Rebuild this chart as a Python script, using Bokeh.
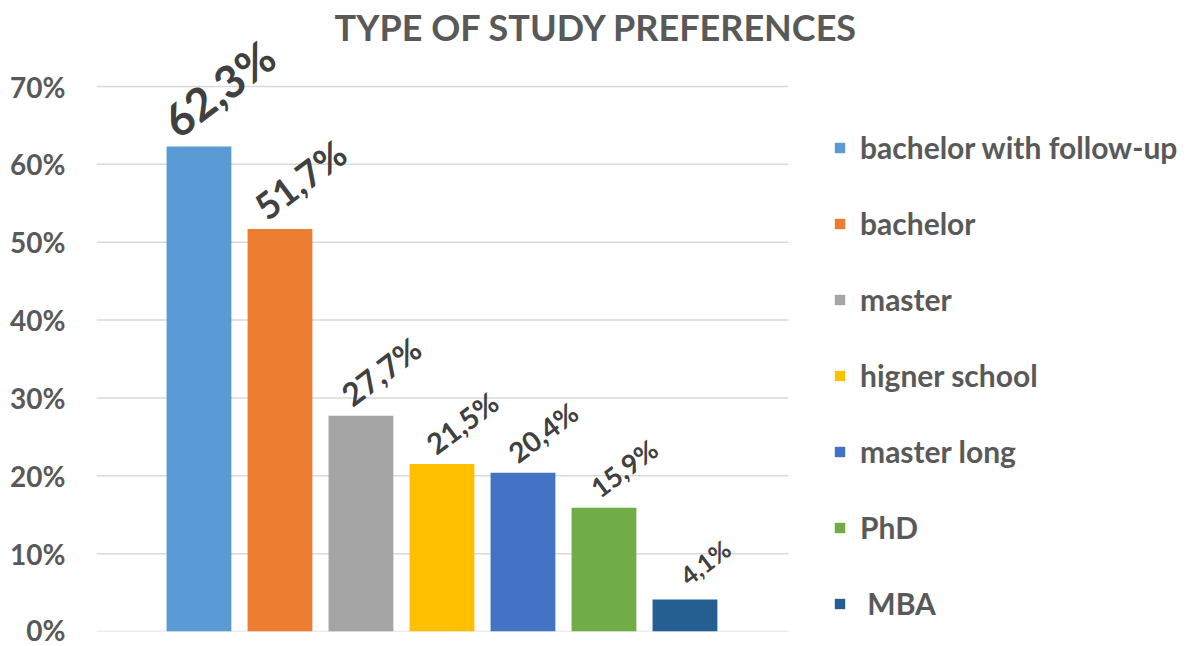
from bokeh.plotting import figure
from bokeh.models import ColumnDataSource, Legend, LegendItem, Label, PrintfTickFormatter, FixedTicker, Range1d
from bokeh.core.properties import value
from bokeh.embed import file_html
from bokeh.resources import INLINE

# ---- data ----
categories = ["bachelor with follow-up", "bachelor", "master", "higner school",
              "master long", "PhD", " MBA"]
percent = [62.3, 51.7, 27.7, 21.5, 20.4, 15.9, 4.1]
y_ticks = [0, 10, 20, 30, 40, 50, 60, 70]
title_text = "TYPE OF STUDY PREFERENCES"

# ---- styles ----
colors = ["#5B9BD5", "#ED7D31", "#A5A5A5", "#FFC000", "#4472C4", "#70AD47", "#255E91"]
label_sizes = [45, 37, 32, 29, 28, 27, 25]
FONT = "Lato"

x_idx = list(range(len(categories)))
labels = [f"{v:.1f}".replace(".", ",") + "%" for v in percent]

src = ColumnDataSource(dict(
    x=x_idx, top=percent, color=colors, cat=categories, lab=labels,
    fs=[f"{s}px" for s in label_sizes],
    xo=[20 for s in label_sizes],
    yo=[-(1.02 * s + 12) for s in label_sizes],
))

W, H = 1186, 646
left, bottom = 96, 15
px_per_cat = 81.0
x_start = -1.265
x_end = x_start + (W - left) / px_per_cat
y_end = 70 * (H - bottom) / (631 - 86)

p = figure(width=W, height=H, output_backend="svg", toolbar_location=None,
           x_range=Range1d(x_start, x_end), y_range=Range1d(0, y_end),
           min_border_left=left, min_border_right=0, min_border_top=0, min_border_bottom=bottom)
p.outline_line_color = None
p.xaxis.visible = False
p.xgrid.visible = False
p.ygrid.visible = False
p.background_fill_color = "white"
p.border_fill_color = "white"

# gridlines limited to the bar area
grid_end = len(categories) - 1 + 1.278
p.segment(x0=[x_start] * len(y_ticks), x1=[grid_end] * len(y_ticks), y0=y_ticks, y1=y_ticks,
          line_color="#D9D9D9", line_width=1.5)

bars = p.vbar(x="x", top="top", width=0.8, source=src, fill_color="color", line_color=None)

p.text(x="x", y="top", text="lab", source=src, angle=37, angle_units="deg",
       text_align="center", text_baseline="middle", x_offset="xo", y_offset="yo",
       text_font=value(FONT), text_font_style="bold", text_font_size="fs",
       text_color="#404040")

yax = p.yaxis[0]
yax.ticker = FixedTicker(ticks=y_ticks)
yax.formatter = PrintfTickFormatter(format="%d%%")
yax.axis_line_color = None
yax.major_tick_line_color = None
yax.minor_tick_line_color = None
yax.major_tick_out = 0
yax.major_tick_in = 0
yax.major_label_standoff = 31
yax.major_label_text_font = FONT
yax.major_label_text_font_style = "bold"
yax.major_label_text_font_size = "28px"
yax.major_label_text_color = "#595959"

legend = Legend(items=[LegendItem(label=c, renderers=[bars], index=i) for i, c in enumerate(categories)],
                location=(737, 10), orientation="vertical",
                glyph_width=13, glyph_height=13, label_height=13, spacing=40,
                label_standoff=14, padding=0, margin=0,
                border_line_color=None, background_fill_alpha=0,
                label_text_font=FONT, label_text_font_style="bold",
                label_text_font_size="30px", label_text_color="#595959")
p.add_layout(legend)

p.add_layout(Label(x=500, y=605, x_units="screen", y_units="screen", text=title_text,
                   text_align="center", text_baseline="middle",
                   text_font=FONT, text_font_style="bold", text_font_size="36px",
                   text_color="#595959"))

open("out.html", "w").write(file_html(p, INLINE))
